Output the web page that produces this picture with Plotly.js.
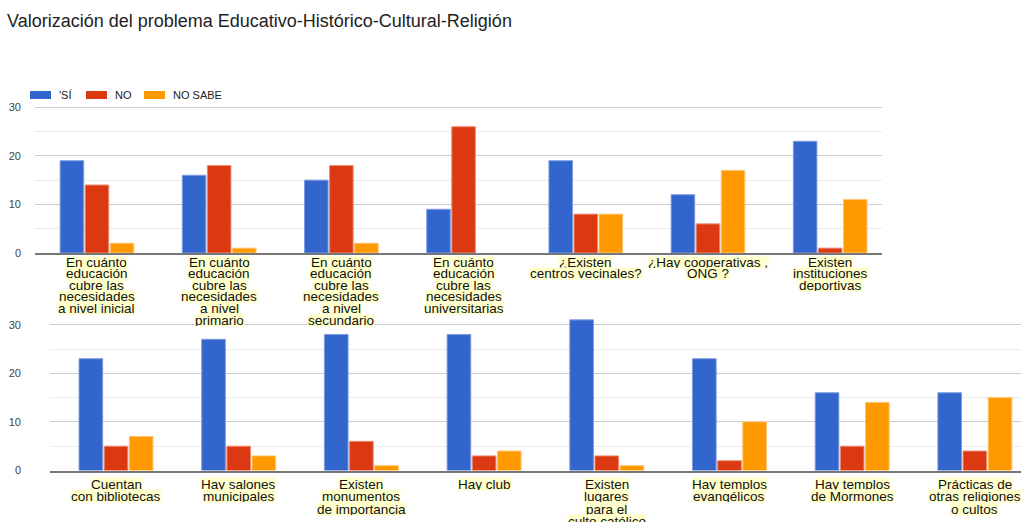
<!DOCTYPE html>
<html>
<head>
<meta charset="utf-8">
<script src="https://cdn.plot.ly/plotly-3.0.1.min.js"></script>
<style>html,body{margin:0;padding:0;background:#fff;}#chart{width:1021px;height:522px;}</style>
</head>
<body>
<div id="chart"></div>
<script>
const seriesNames = ["'SÍ", "NO", "NO SABE"];
const seriesColors = ["#3366CC", "#DC3912", "#FF9900"];
const seriesBorders = ["#7d9be0", "#ec8a72", "#ffc370"];

const topCategories = [
  "En cuánto<br>educación<br>cubre las<br>necesidades<br>a nivel inicial",
  "En cuánto<br>educación<br>cubre las<br>necesidades<br>a nivel<br>primario",
  "En cuánto<br>educación<br>cubre las<br>necesidades<br>a nivel<br>secundario",
  "En cuánto<br>educación<br>cubre las<br>necesidades<br>universitarias",
  "¿Existen<br>centros vecinales?",
  "¿Hay cooperativas ,<br>ONG ?",
  "Existen<br>instituciones<br>deportivas"
];
const topSi     = [19, 16, 15, 9, 19, 12, 23];
const topNo     = [14, 18, 18, 26, 8, 6, 1];
const topNoSabe = [2, 1, 2, 0, 8, 17, 11];

const bottomCategories = [
  "Cuentan<br>con bibliotecas",
  "Hay salones<br>municipales",
  "Existen<br>monumentos<br>de importancia",
  "Hay club",
  "Existen<br>lugares<br>para el<br>culto católico",
  "Hay templos<br>evangélicos",
  "Hay templos<br>de Mormones",
  "Prácticas de<br>otras religiones<br>o cultos"
];
const bottomSi     = [23, 27, 28, 28, 31, 23, 16, 16];
const bottomNo     = [5, 5, 6, 3, 3, 2, 5, 4];
const bottomNoSabe = [7, 3, 1, 4, 1, 10, 14, 15];

const yTicks = [0, 10, 20, 30];

const W = 1021, H = 522;
const px = v => v / W;
const py = v => (H - v) / H;
const FONT = "Liberation Sans, Arial, sans-serif";

const topSeries = [topSi, topNo, topNoSabe];
const bottomSeries = [bottomSi, bottomNo, bottomNoSabe];

const traces = [];
function addBars(cats, series, xa, ya) {
  series.forEach((vals, i) => traces.push({
    type: 'bar', x: cats, y: vals, name: seriesNames[i], xaxis: xa, yaxis: ya,
    marker: {color: seriesColors[i], line: {color: seriesBorders[i], width: vals.map(v => v > 0 ? 1 : 0)}},
    showlegend: false, hoverinfo: 'y'
  }));
}
addBars(topCategories, topSeries, 'x', 'y');
addBars(bottomCategories, bottomSeries, 'x2', 'y2');

const yCommon = {
  tickvals: yTicks, ticktext: yTicks.map(String),
  showgrid: true, gridcolor: '#cccccc', gridwidth: 1,
  minor: {dtick: 5, tick0: 0, showgrid: true, gridcolor: '#ebebeb', gridwidth: 1},
  zeroline: false, showline: false, ticks: '',
  tickfont: {family: FONT, size: 11, color: '#444'}
};
const xCommon = {
  type: 'category', showticklabels: false, ticks: '', showgrid: false, zeroline: false,
  showline: true, linecolor: '#777777', linewidth: 2
};

const annotations = [];
function addLabels(cats, xref, startY, step) {
  cats.forEach((c, i) => {
    c.split('<br>').forEach((line, j) => {
      annotations.push({
        xref: xref, yref: 'paper', x: i, y: py(startY + j * step),
        text: line, showarrow: false, xanchor: 'center', yanchor: 'middle',
        font: {family: FONT, size: 13.5, color: '#111'},
        bgcolor: '#FFFFCC', borderpad: 0, height: Math.floor(step), valign: 'middle'
      });
    });
  });
}
addLabels(topCategories, 'x', 262, 11.6);
addLabels(bottomCategories, 'x2', 484, 12.4);

// legend
const legendX = [30, 86, 144];
const shapes = [];
seriesNames.forEach((n, i) => {
  shapes.push({type: 'rect', xref: 'paper', yref: 'paper',
    x0: px(legendX[i]), x1: px(legendX[i] + 21), y0: py(99), y1: py(91),
    fillcolor: seriesColors[i], line: {width: 0}});
  annotations.push({xref: 'paper', yref: 'paper', x: px(legendX[i] + 27), y: py(95),
    text: n, showarrow: false, xanchor: 'left', yanchor: 'middle',
    font: {family: FONT, size: 11, color: '#222'}});
});

const layout = {
  width: W, height: H,
  margin: {l: 0, r: 0, t: 0, b: 0},
  paper_bgcolor: '#ffffff', plot_bgcolor: '#ffffff',
  title: {text: 'Valorización del problema Educativo-Histórico-Cultural-Religión',
    x: px(7), xanchor: 'left', xref: 'paper', y: py(21), yanchor: 'middle', yref: 'paper',
    font: {family: FONT, size: 18, color: '#222'}},
  barmode: 'group', bargap: 0.385, bargroupgap: 0.06,
  showlegend: false,
  xaxis: Object.assign({}, xCommon, {domain: [px(35), px(882)], range: [-0.507, 6.424], anchor: 'y'}),
  yaxis: Object.assign({}, yCommon, {domain: [py(253), py(83)], range: [0, 35], anchor: 'x', ticklabelstandoff: 13}),
  xaxis2: Object.assign({}, xCommon, {domain: [px(50), 1], range: [-0.538, 7.376], anchor: 'y2'}),
  yaxis2: Object.assign({}, yCommon, {domain: [py(470.5), py(315)], range: [0, 32], anchor: 'x2', ticklabelstandoff: 28}),
  annotations: annotations,
  shapes: shapes
};

Plotly.newPlot('chart', traces, layout, {displayModeBar: false, staticPlot: true});
</script>
</body>
</html>
